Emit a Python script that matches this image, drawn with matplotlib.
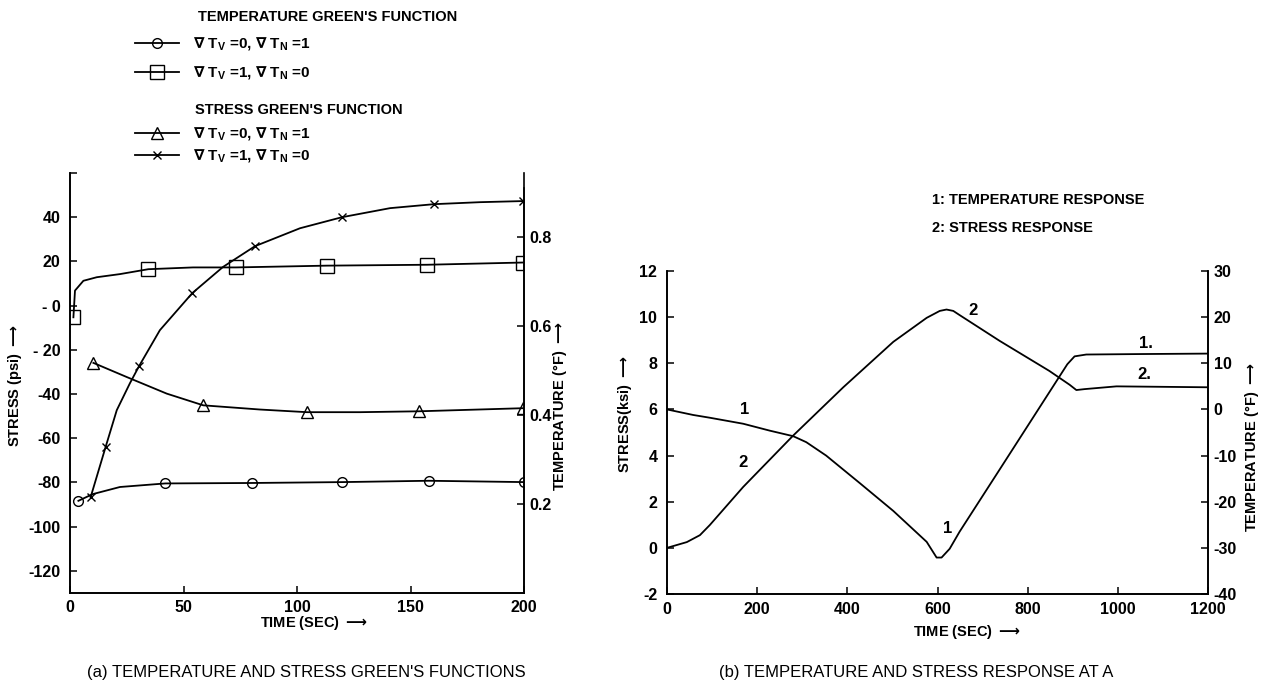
import numpy as np
import matplotlib.pyplot as plt
import matplotlib.font_manager as fm
from matplotlib.lines import Line2D

# condensed lettering if we have it, otherwise Arial-like Liberation Sans a bit smaller
names = {f.name for f in fm.fontManager.ttflist}
if 'Liberation Sans Narrow' in names:
    FONT, FS = 'Liberation Sans Narrow', 12
else:
    FONT, FS = 'Liberation Sans', 10.5
plt.rcParams['font.family'] = [FONT, 'DejaVu Sans']
plt.rcParams['font.weight'] = 'bold'
plt.rcParams['font.size'] = FS
plt.rcParams['axes.unicode_minus'] = False

# --- (a) Green's functions ---
circ_t = [3.7, 10, 22, 42, 80, 120, 158, 200]
circ_T = [0.207, 0.222, 0.238, 0.246, 0.247, 0.249, 0.252, 0.249]
circ_mk = [0, 3, 4, 5, 6, 7]

sq_t = [1.5, 2.2, 5.9, 11.8, 22.0, 34.5, 54.2, 73.1, 113.2, 157.3, 199.6]
sq_T = [0.619, 0.679, 0.701, 0.709, 0.716, 0.727, 0.731, 0.731, 0.735, 0.737, 0.742]
sq_mk = [0, 5, 7, 8, 9, 10]

tri_t = [10.3, 25.0, 42.6, 58.7, 83.7, 104.4, 127.8, 153.7, 199.6]
tri_S = [-25.9, -32.3, -39.8, -45.1, -47.0, -48.2, -48.2, -47.8, -46.4]
tri_mk = [0, 3, 5, 7, 8]

x_t = [9.1, 15.7, 20.6, 26.4, 30.4, 39.6, 53.9, 67.4, 81.5, 101.3, 119.8, 141.0, 160.4, 180.6, 199.6]
x_S = [-86.6, -63.9, -47.3, -35.1, -27.4, -11.1, 5.7, 17.5, 26.9, 35.0, 40.0, 44.1, 45.9, 46.8, 47.3]
x_mk = [0, 1, 4, 6, 8, 10, 12, 14]

a_xticks = [0, 50, 100, 150, 200]
a_yticks = [60, 40, 20, 0, -20, -40, -60, -80, -100, -120]
a_ylabels = ['', '40', '20', '- 0', '- 20', '-40', '-60', '-80', '-100', '-120']
a_tticks = [0.2, 0.4, 0.6, 0.8]

# --- (b) responses at A ---
t1 = [0, 58, 95, 169, 228, 280, 309, 353, 428, 502, 576, 598, 609, 627, 649, 738, 888, 904, 930, 1048, 1200]
T1 = [0, -1.2, -1.8, -3.1, -4.6, -5.8, -7.1, -10, -16, -22, -28.7, -32.1, -32.1, -30.2, -26.5, -13.0, 9.8, 11.5, 11.9, 12.0, 12.1]

t2 = [0, 44, 73, 95, 169, 280, 391, 502, 576, 605, 620, 635, 649, 738, 848, 893, 908, 926, 997, 1200]
S2 = [0, 0.25, 0.55, 0.99, 2.64, 4.87, 6.96, 8.93, 9.97, 10.27, 10.33, 10.27, 10.09, 8.97, 7.67, 7.07, 6.84, 6.88, 7.0, 6.96]

lab_t = [173, 168, 678, 622, 1063, 1059]
lab_S = [6.0, 3.7, 10.3, 0.85, 8.85, 7.5]
lab_txt = ['1', '2', '2', '1', '1.', '2.']

b_xticks = [0, 200, 400, 600, 800, 1000, 1200]
b_yticks = [12, 10, 8, 6, 4, 2, 0, -2]
b_tticks = [30, 20, 10, 0, -10, -20, -30, -40]

W, H = 1261, 687
def fx(x):
    return x / W
def fy(y):
    return 1 - y / H

fig = plt.figure(figsize=(W / 100, H / 100), dpi=100)
ax_a = fig.add_axes([fx(70), fy(593), (524 - 70) / W, (593 - 173) / H])
ax_at = ax_a.twinx()
ax_b = fig.add_axes([fx(667), fy(594), (1208 - 667) / W, (594 - 271) / H])
ax_bt = ax_b.twinx()

kw = dict(color='k', lw=1.3, mfc='none', mec='k', mew=1.0)
ax_at.plot(circ_t, circ_T, marker='o', ms=7, markevery=circ_mk, **kw)
ax_at.plot(sq_t, sq_T, marker='s', ms=10, markevery=sq_mk, **kw)
ax_a.plot(tri_t, tri_S, marker='^', ms=8, markevery=tri_mk, **kw)
ax_a.plot(x_t, x_S, marker='x', ms=6, markevery=x_mk, **kw)

ax_a.set_xlim(0, 200)
ax_a.set_ylim(-130, 60)
ax_at.set_ylim(0, 0.943)
ax_a.set_xticks(a_xticks)
ax_a.set_yticks(a_yticks, a_ylabels)
ax_at.set_yticks(a_tticks, ['0.2', '0.4', '0.6', '0.8'])
ax_at.spines['right'].set_bounds(0, 0.91)

ax_b.plot(t2, S2, color='k', lw=1.3)
ax_bt.plot(t1, T1, color='k', lw=1.3)
for t, s, txt in zip(lab_t, lab_S, lab_txt):
    ax_b.text(t, s, txt, ha='center', va='center', fontsize=FS + 1.5)
ax_b.set_xlim(0, 1200)
ax_b.set_ylim(-2, 12)
ax_bt.set_ylim(-40, 30)
ax_b.set_xticks(b_xticks)
ax_b.set_yticks(b_yticks)
ax_bt.set_yticks(b_tticks)

for ax in (ax_a, ax_at, ax_b, ax_bt):
    ax.spines['top'].set_visible(False)
    for s in ax.spines.values():
        s.set_linewidth(1.2)
    ax.tick_params(direction='in', length=5, width=1.1, labelsize=FS + 1)
ax_a.tick_params(axis='y', pad=7)
ax_a.tick_params(axis='x', pad=5)
ax_b.tick_params(axis='y', pad=7)
ax_b.tick_params(axis='x', pad=6)
ax_at.tick_params(axis='y', pad=4)
ax_bt.tick_params(axis='y', pad=4)

# axis labels (arrow drawn with mathtext)
arrow = ' $\\longrightarrow$'
lfs = FS
fig.text(fx(15), fy(386), 'STRESS (psi)' + arrow, rotation=90, ha='center', va='center', fontsize=lfs)
fig.text(fx(560), fy(406), 'TEMPERATURE (°F)' + arrow, rotation=90, ha='center', va='center', fontsize=lfs)
fig.text(fx(314), fy(623), 'TIME (SEC)' + arrow, ha='center', va='center', fontsize=lfs)
fig.text(fx(625), fy(414), 'STRESS(ksi)' + arrow, rotation=90, ha='center', va='center', fontsize=lfs)
fig.text(fx(1252), fy(447), 'TEMPERATURE (°F)' + arrow, rotation=90, ha='center', va='center', fontsize=lfs)
fig.text(fx(967), fy(632), 'TIME (SEC)' + arrow, ha='center', va='center', fontsize=lfs)

# legends
sub = lambda v, n: ('$\\nabla$ T$_\\mathregular{V}$ =%s, $\\nabla$ T$_\\mathregular{N}$ =%s'
                    % (v, n))
h_circ = Line2D([], [], marker='o', ms=7, **kw)
h_sq = Line2D([], [], marker='s', ms=10, **kw)
h_tri = Line2D([], [], marker='^', ms=8, **kw)
h_x = Line2D([], [], marker='x', ms=6, **kw)
fig.text(fx(198), fy(17), "TEMPERATURE GREEN'S FUNCTION", va='center', fontsize=FS)
fig.legend([h_circ, h_sq], [sub(0, 1), sub(1, 0)], loc='upper left',
           bbox_to_anchor=(fx(135), fy(36)), frameon=False, handlelength=2.9,
           handletextpad=0.9, borderpad=0, borderaxespad=0, labelspacing=0.75,
           fontsize=FS + 0.5)
fig.text(fx(195), fy(110), "STRESS GREEN'S FUNCTION", va='center', fontsize=FS)
fig.legend([h_tri, h_x], [sub(0, 1), sub(1, 0)], loc='upper left',
           bbox_to_anchor=(fx(135), fy(126)), frameon=False, handlelength=2.9,
           handletextpad=0.9, borderpad=0, borderaxespad=0, labelspacing=0.3,
           fontsize=FS + 0.5)

fig.text(fx(932), fy(200), '1: TEMPERATURE RESPONSE', va='center', fontsize=FS)
fig.text(fx(932), fy(228), '2: STRESS RESPONSE', va='center', fontsize=FS)

fig.text(fx(306), fy(673), "(a) TEMPERATURE AND STRESS GREEN'S FUNCTIONS", ha='center',
         va='center', fontsize=12, family=['Liberation Sans', 'DejaVu Sans'], weight='normal')
fig.text(fx(916), fy(673), '(b) TEMPERATURE AND STRESS RESPONSE AT A', ha='center',
         va='center', fontsize=12, family=['Liberation Sans', 'DejaVu Sans'], weight='normal')

fig.savefig('out.png', dpi=100)
